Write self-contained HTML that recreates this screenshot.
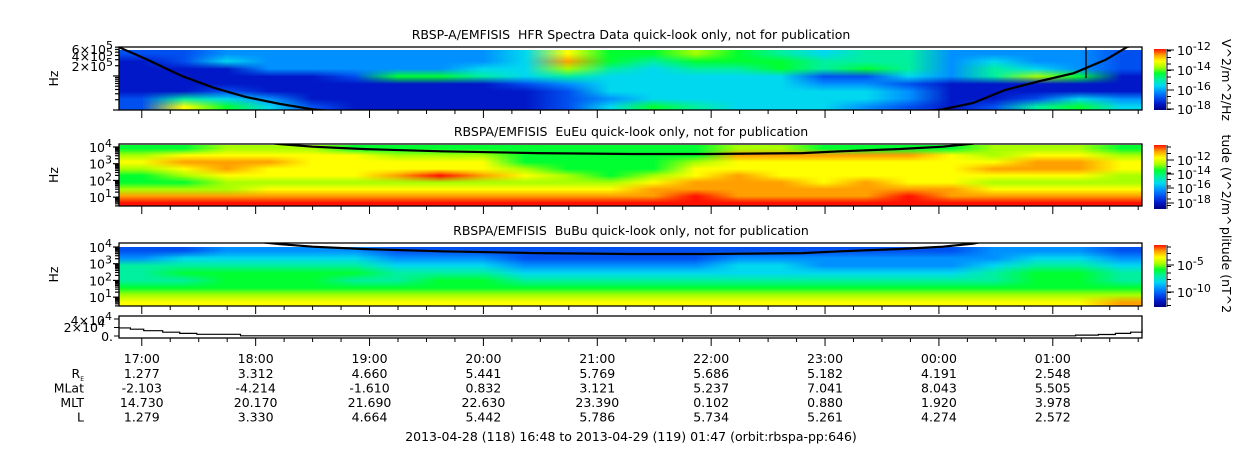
<!DOCTYPE html>
<html><head><meta charset="utf-8"><style>
html,body{margin:0;padding:0;background:#fff;}
#wrap{position:relative;width:1250px;height:449px;overflow:hidden;font-family:"DejaVu Sans","Liberation Sans",sans-serif;}
canvas.hm{position:absolute;}
svg{position:absolute;left:0;top:0;}
text{font-family:"DejaVu Sans","Liberation Sans",sans-serif;font-size:12.5px;fill:#000;}
</style></head><body>
<div id="wrap">
<svg id="svg" width="1250" height="449"></svg>
</div>
<script>
// ---------- DATA ----------
const startMin = 0, endMin = 539; // 16:48 -> 01:47
const hourLabels = ["17:00","18:00","19:00","20:00","21:00","22:00","23:00","00:00","01:00"];
const rowNames = ["R_E","MLat","MLT","L"];
const reVals   = ["1.277","3.312","4.660","5.441","5.769","5.686","5.182","4.191","2.548"];
const mlatVals = ["-2.103","-4.214","-1.610","0.832","3.121","5.237","7.041","8.043","5.505"];
const mltVals  = ["14.730","20.170","21.690","22.630","23.390","0.102","0.880","1.920","3.978"];
const lVals    = ["1.279","3.330","4.664","5.442","5.786","5.734","5.261","4.274","2.572"];
// heatmap levels 0 (dark blue) .. 10 (red), rows top->bottom, 24 time columns
const hfr = [
[2,2,3,3,3,3,3,3,3,4,8,6,6,7,6,5,4,5,5,3,3,3,3,2],
[1,2,4,3,3,3,3,3,3,4,9,6,5,6,6,6,5,5,5,3,4,3,3,2],
[1,1,1,3,3,3,3,3,4,4,7,5,4,5,5,6,5,6,5,3,5,4,3,2],
[1,1,1,1,1,2,6,6,5,4,5,4,4,4,4,4,2,2,4,3,5,7,6,1],
[1,1,1,1,1,1,1,1,1,2,3,4,4,4,4,4,3,3,2,1,1,1,1,1],
[1,1,2,1,1,1,1,1,1,1,2,4,4,4,4,4,4,4,3,1,1,1,1,1],
[2,5,4,3,1,1,1,1,1,1,2,3,4,4,4,4,4,4,3,1,1,2,4,3],
[2,8,6,4,2,1,1,1,1,1,2,4,6,5,4,4,4,3,2,1,2,5,6,4]];
const eueu = [
[6,6,7,7,7,6,6,6,6,6,6,6,6,6,7,7,6,6,6,6,7,7,7,6],
[7,8,8,8,8,8,7,7,7,6,6,6,6,6,9,9,9,9,9,8,7,8,8,7],
[8,9,9,9,8,8,8,8,8,6,6,6,6,7,8,8,8,8,8,8,8,9,9,8],
[7,8,9,8,8,8,8,8,8,7,6,6,6,8,8,8,8,8,8,8,9,9,9,8],
[6,7,8,8,8,8,9,10,9,8,7,6,7,8,9,8,8,8,8,8,8,8,8,7],
[6,6,7,7,7,7,7,7,7,7,7,7,8,9,9,9,8,9,8,8,7,7,7,7],
[7,7,7,8,8,8,8,8,8,8,8,8,9,9,9,9,9,9,9,9,8,8,8,8],
[9,9,9,9,9,9,9,9,9,9,9,9,9,10,9,9,9,9,10,9,9,9,9,9],
[10,10,10,10,10,10,10,10,10,10,10,10,10,10,10,10,10,10,10,10,10,10,10,10]];
const bubu = [
[2,2,3,3,3,3,2,2,2,2,2,2,2,2,2,2,2,2,2,2,3,3,3,2],
[3,4,4,4,4,4,3,3,3,2,2,2,2,2,3,3,3,3,3,3,3,4,4,3],
[5,5,5,5,5,5,4,4,4,3,3,3,3,3,4,4,3,3,3,3,4,5,5,4],
[5,6,6,6,6,6,5,5,5,4,4,4,4,4,4,4,4,4,4,4,5,6,6,5],
[5,5,6,6,6,5,5,6,6,5,5,5,5,5,5,5,5,5,5,5,5,6,6,5],
[6,6,6,6,6,6,6,6,6,6,6,6,6,6,6,6,6,6,6,6,6,6,6,6],
[7,7,7,7,7,7,7,7,7,7,7,7,7,7,7,7,7,7,7,7,7,7,7,7],
[8,8,8,8,8,8,8,8,8,8,8,8,8,8,8,8,8,8,8,8,8,8,8,9]];
// electron cyclotron frequency curve (minutes, Hz)
const fceT = [0,15,33,50,67,85,102,130,170,220,270,310,360,380,410,434,450,467,485,503,520,531,539];
const fceV = [7e5,3e5,1e5,4.5e4,2.4e4,1.5e4,1.05e4,7500,5500,4300,3800,3800,4300,5500,7500,1.05e4,1.6e4,3.9e4,7e4,1.2e5,3e5,7e5,1e6];
// bottom line panel (minutes, value)
const lineT = [0,6,13,23,32,41,64,474,504,516,525,533,539];
const lineV = [1.9e4,1.6e4,1.25e4,9e3,6e3,4e3,400,500,2000,3500,6000,9000,1.6e4];

// ---------- GEOMETRY ----------
const X0=119, X1=1142;
const xs = t => X0 + (t-startMin)/(endMin-startMin)*(X1-X0);
const P = [
 {top:47,bot:110,dTop:50,lmin:4.0,lmax:5.85},
 {top:144,bot:206,dTop:145,lmin:0.47,lmax:4.18},
 {top:243,bot:306,dTop:247,lmin:0.47,lmax:4.24}];
const ys = (p,v)=> p.bot - (Math.log10(v)-p.lmin)/(p.lmax-p.lmin)*(p.bot-p.top);
const cmap = ["#000080","#0018c8","#0050f0","#0090ff","#00d8f0","#00f0a0","#00ff30","#a8ff00","#ffff00","#ffa000","#ff1000"];

const svg = document.getElementById('svg');
const NS="http://www.w3.org/2000/svg";
function mk(tag, attrs, parent){const e=document.createElementNS(NS,tag);for(const k in attrs)e.setAttribute(k,attrs[k]);(parent||svg).appendChild(e);return e;}
function txt(x,y,s,anchor,parent){const e=mk('text',{x:x,y:y,'text-anchor':anchor||'middle'},parent);e.textContent=s;return e;}
function hexRGB(h){return [parseInt(h.substr(1,2),16),parseInt(h.substr(3,2),16),parseInt(h.substr(5,2),16)];}

// heatmaps
function heat(mat,p,name){
  const rows=mat.length, cols=mat[0].length;
  const c=document.createElement('canvas');
  c.width=cols;c.height=rows;c.className='hm';
  
  
  const ctx=c.getContext('2d');const img=ctx.createImageData(cols,rows);
  for(let r=0;r<rows;r++)for(let k=0;k<cols;k++){const rgb=hexRGB(cmap[mat[r][k]]);const i=(r*cols+k)*4;img.data[i]=rgb[0];img.data[i+1]=rgb[1];img.data[i+2]=rgb[2];img.data[i+3]=255;}
  ctx.putImageData(img,0,0);
  const left=xs(startMin), right=xs(endMin);
  c.style.left=left+'px';c.style.top=p.dTop+'px';c.style.width=(right-left)+'px';c.style.height=(p.bot-p.dTop)+'px';
  document.getElementById('wrap').insertBefore(c,svg);
}
heat(hfr,P[0],'hfr-spectrogram');heat(eueu,P[1],'eueu-spectrogram');heat(bubu,P[2],'bubu-spectrogram');

// panel frames, fce curves, ticks
const titles=["RBSP-A/EMFISIS  HFR Spectra Data quick-look only, not for publication","RBSPA/EMFISIS  EuEu quick-look only, not for publication","RBSPA/EMFISIS  BuBu quick-look only, not for publication"];
const titleNames=["hfr-title","eueu-title","bubu-title"];
P.forEach((p,i)=>{
  const g=mk('g',{});
  
  
  const cp=mk('clipPath',{id:'cp'+i},g);mk('rect',{x:X0,y:p.top,width:X1-X0,height:p.bot-p.top},cp);
  let d='';fceT.forEach((t,k)=>{d+=(k?'L':'M')+xs(t).toFixed(1)+','+ys(p,fceV[k]).toFixed(1);});
  const cu=mk('path',{d:d,fill:'none',stroke:'#000','stroke-width':2.2,'clip-path':'url(#cp'+i+')'},g);
  
  
  const fr=mk('rect',{x:X0,y:p.top,width:X1-X0,height:p.bot-p.top,fill:'none',stroke:'#000','stroke-width':1.3},g);
  
  
  const tt=txt(631,p.top-8,titles[i].replace('  ','\u00a0\u00a0'),'middle',g);
  
  
  const hz=mk('text',{x:0,y:0,'text-anchor':'middle',transform:'translate(58,'+((p.top+p.bot)/2)+') rotate(-90)'},g);hz.textContent='Hz';
  
  
  for(let dec=Math.floor(p.lmin);dec<=Math.ceil(p.lmax);dec++)for(let m=1;m<10;m++){const v=m*Math.pow(10,dec);const lv=Math.log10(v);if(lv<p.lmin||lv>p.lmax)continue;const y=ys(p,v);mk('line',{x1:X0-(m==1?6:4),x2:X0,y1:y,y2:y,stroke:'#000','stroke-width':1.2},g);}
});
{const vl=mk('line',{x1:1086,x2:1086,y1:47,y2:78,stroke:'#000','stroke-width':1.3});}

function sup(x,y,base,exp,name){const t=mk('text',{x:x,y:y,'text-anchor':'end'});const a=mk('tspan',{},t);a.textContent=base;const b=mk('tspan',{dy:-5,'font-size':'11'},t);b.textContent=exp;return t;}
sup(113,54,'6×10','5','hfr-ytick-6e5');sup(113,61,'4×10','5','hfr-ytick-4e5');sup(113,71,'2×10','5','hfr-ytick-2e5');
[4,3,2,1].forEach(e=>{const y=ys(P[1],Math.pow(10,e));sup(112,y+5,'10',String(e),'eueu-ytick-'+e);});
[4,3,2,1].forEach(e=>{const y=ys(P[2],Math.pow(10,e));sup(112,y+5,'10',String(e),'bubu-ytick-'+e);});

// bottom line panel
const L={top:316,bot:338};
const yl=v=>336 - v/4e4*17;
{const g=mk('g',{});
 let d='';lineT.forEach((t,k)=>{const x=xs(t),y=yl(lineV[k]);if(k==0)d='M'+x+','+y;else{d+='H'+x.toFixed(1)+'V'+y.toFixed(1);}});d+='H'+xs(endMin);
 const lp=mk('path',{d:d,fill:'none',stroke:'#000','stroke-width':1.2},g);
 mk('rect',{x:X0,y:L.top,width:X1-X0,height:L.bot-L.top,fill:'none',stroke:'#000','stroke-width':1.3},g);
 [4e4,2e4,0].forEach(v=>{mk('line',{x1:X0-5,x2:X0,y1:yl(v),y2:yl(v),stroke:'#000'},g);});
 sup(112,325,'4×10','4','line-ytick-4e4');sup(105,332,'2×10','4','line-ytick-2e4');
 const z=txt(113,341,'0.','end',g);
}

[P[0].bot,P[1].bot,P[2].bot,L.bot].forEach(yb=>{
  for(let t=12;t<=endMin;t+=15){const major=((t-12)%60)==0;mk('line',{x1:xs(t),x2:xs(t),y1:yb,y2:yb+(major?8:4),stroke:'#000','stroke-width':1});}
});

hourLabels.forEach((h,k)=>{const x=xs(12+60*k);
  const a=txt(x,363,h);
  [reVals,mlatVals,mltVals,lVals].forEach((arr,r)=>{const e=txt(x,378+r*14.5,arr[k]);});
});
{const r=mk('text',{x:84,y:378,'text-anchor':'end'});const a=mk('tspan',{},r);a.textContent='R';const b=mk('tspan',{dy:3,'font-size':'6'},r);b.textContent='E';}
["MLat","MLT","L"].forEach((s,i)=>{const e=txt(84,392.5+i*14.5,s,'end');});
{const e=txt(631,441,'2013-04-28 (118) 16:48 to 2013-04-29 (119) 01:47 (orbit:rbspa-pp:646)');}

const cbs=[{y0:49,y1:110,labels:[["-12",50],["-14",70],["-16",90],["-18",109]],unit:'V^2/m^2/Hz',uy:80},
           {y0:145,y1:209,labels:[["-12",160],["-14",174],["-16",188],["-18",203]],unit:'tude (V^2/m^',uy:180},
           {y0:245,y1:307,labels:[["-5",265],["-10",292]],unit:'plitude (nT^2',uy:270}];
const defs=mk('defs',{});const gr=mk('linearGradient',{id:'cbg',x1:0,y1:1,x2:0,y2:0},defs);
cmap.forEach((c,i)=>mk('stop',{offset:(i/(cmap.length-1)),'stop-color':c},gr));
cbs.forEach((cb,i)=>{const g=mk('g',{});
  mk('rect',{x:1154,y:cb.y0,width:12,height:cb.y1-cb.y0,fill:'url(#cbg)'},g);
  mk('line',{x1:1167,x2:1167,y1:cb.y0,y2:cb.y1,stroke:'#000'},g);
  for(let y=cb.y0+2;y<cb.y1;y+=6.5)mk('line',{x1:1167,x2:1171,y1:y,y2:y,stroke:'#000'},g);
  cb.labels.forEach(l=>{mk('line',{x1:1167,x2:1174,y1:l[1],y2:l[1],stroke:'#000'},g);const t=mk('text',{x:1177,y:l[1]+5,'text-anchor':'start'},g);const a=mk('tspan',{},t);a.textContent='10';const b=mk('tspan',{dy:-5,'font-size':'11'},t);b.textContent=l[0];});
  const u=mk('text',{x:0,y:0,'text-anchor':'middle',transform:'translate(1222,'+cb.uy+') rotate(90)'},g);u.textContent=cb.unit;
});
</script>
</body></html>
